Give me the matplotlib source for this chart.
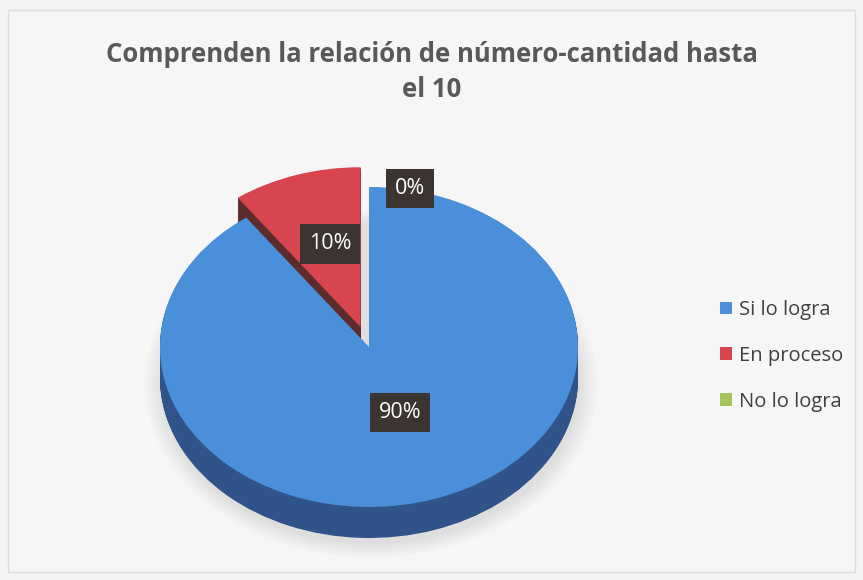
import matplotlib.pyplot as plt
from matplotlib.patches import Rectangle

title = "Comprenden la relación de número-cantidad hasta\nel 10"
categories = ["Si lo logra", "En proceso", "No lo logra"]
values = [90, 10, 0]

top_colors = ["#4a8fd9", "#d9454f", "#a4c35c"]
side_colors = ["#30548a", "#5c2b2b", "#6a7d3a"]
explode = [0, 0.13, 0]

W, H = 863, 580
cx, cy = 369, 347      # pie centre (px from top-left)
rx, ry = 209, 160      # ellipse radii in px
depth = 31             # thickness of the 3d rim in px

plt.rcParams['font.family'] = ['Open Sans', 'DejaVu Sans']

fig = plt.figure(figsize=(W / 100, H / 100), dpi=100, facecolor='#f4f4f4')
fig.patches.append(Rectangle((8 / W, 8 / H), 847 / W, 562 / H, transform=fig.transFigure,
                             facecolor='#f6f6f6', edgecolor='#dcdcdc', lw=1, zorder=-5))
ax = fig.add_axes([0, 0, 1, 1])
ax.set_axis_off()

# soft shadow under the pie
for k in range(8):
    ax.pie([1], colors=['#000000'], radius=1.0 + 0.012 * k,
           center=(0.01, -(depth + 6) / ry), wedgeprops=dict(linewidth=0, alpha=0.012))

# side wall: stack of darker pies shifted downwards
n_layers = 40
for i in range(n_layers, 0, -1):
    ax.pie(values, colors=side_colors, startangle=90, counterclock=False,
           explode=explode, center=(0, -depth / ry * i / n_layers),
           wedgeprops=dict(linewidth=0))

# top face
wedges, _ = ax.pie(values, colors=top_colors, startangle=90, counterclock=False,
                   explode=explode, wedgeprops=dict(linewidth=0))

ax.set_aspect('auto')
ax.set_xlim(-cx / rx, (W - cx) / rx)
ax.set_ylim((cy - H) / ry, cy / ry)

# data labels (position in pie units)
label_pos = [(0.148, -0.41), (-0.187, 0.644), (0.196, 0.99)]
for v, (x, y) in zip(values, label_pos):
    ax.text(x, y, f"{v}%", color='white', fontsize=15.5, ha='center', va='center',
            bbox=dict(boxstyle='square,pad=0.42', facecolor='#3b3431', edgecolor='none'))

fig.text(432 / W, 1 - 72 / H, title, ha='center', va='center', fontsize=18.5,
         fontweight='bold', color='#595959', linespacing=1.4)

fig.legend(wedges, categories, loc='upper left', bbox_to_anchor=(702 / W, 1 - 282 / H),
           frameon=False, fontsize=14.5, handlelength=0.6, handleheight=0.6,
           handletextpad=0.35, labelspacing=1.28, labelcolor='#404040')

fig.savefig('out.png', dpi=100, facecolor=fig.get_facecolor())
